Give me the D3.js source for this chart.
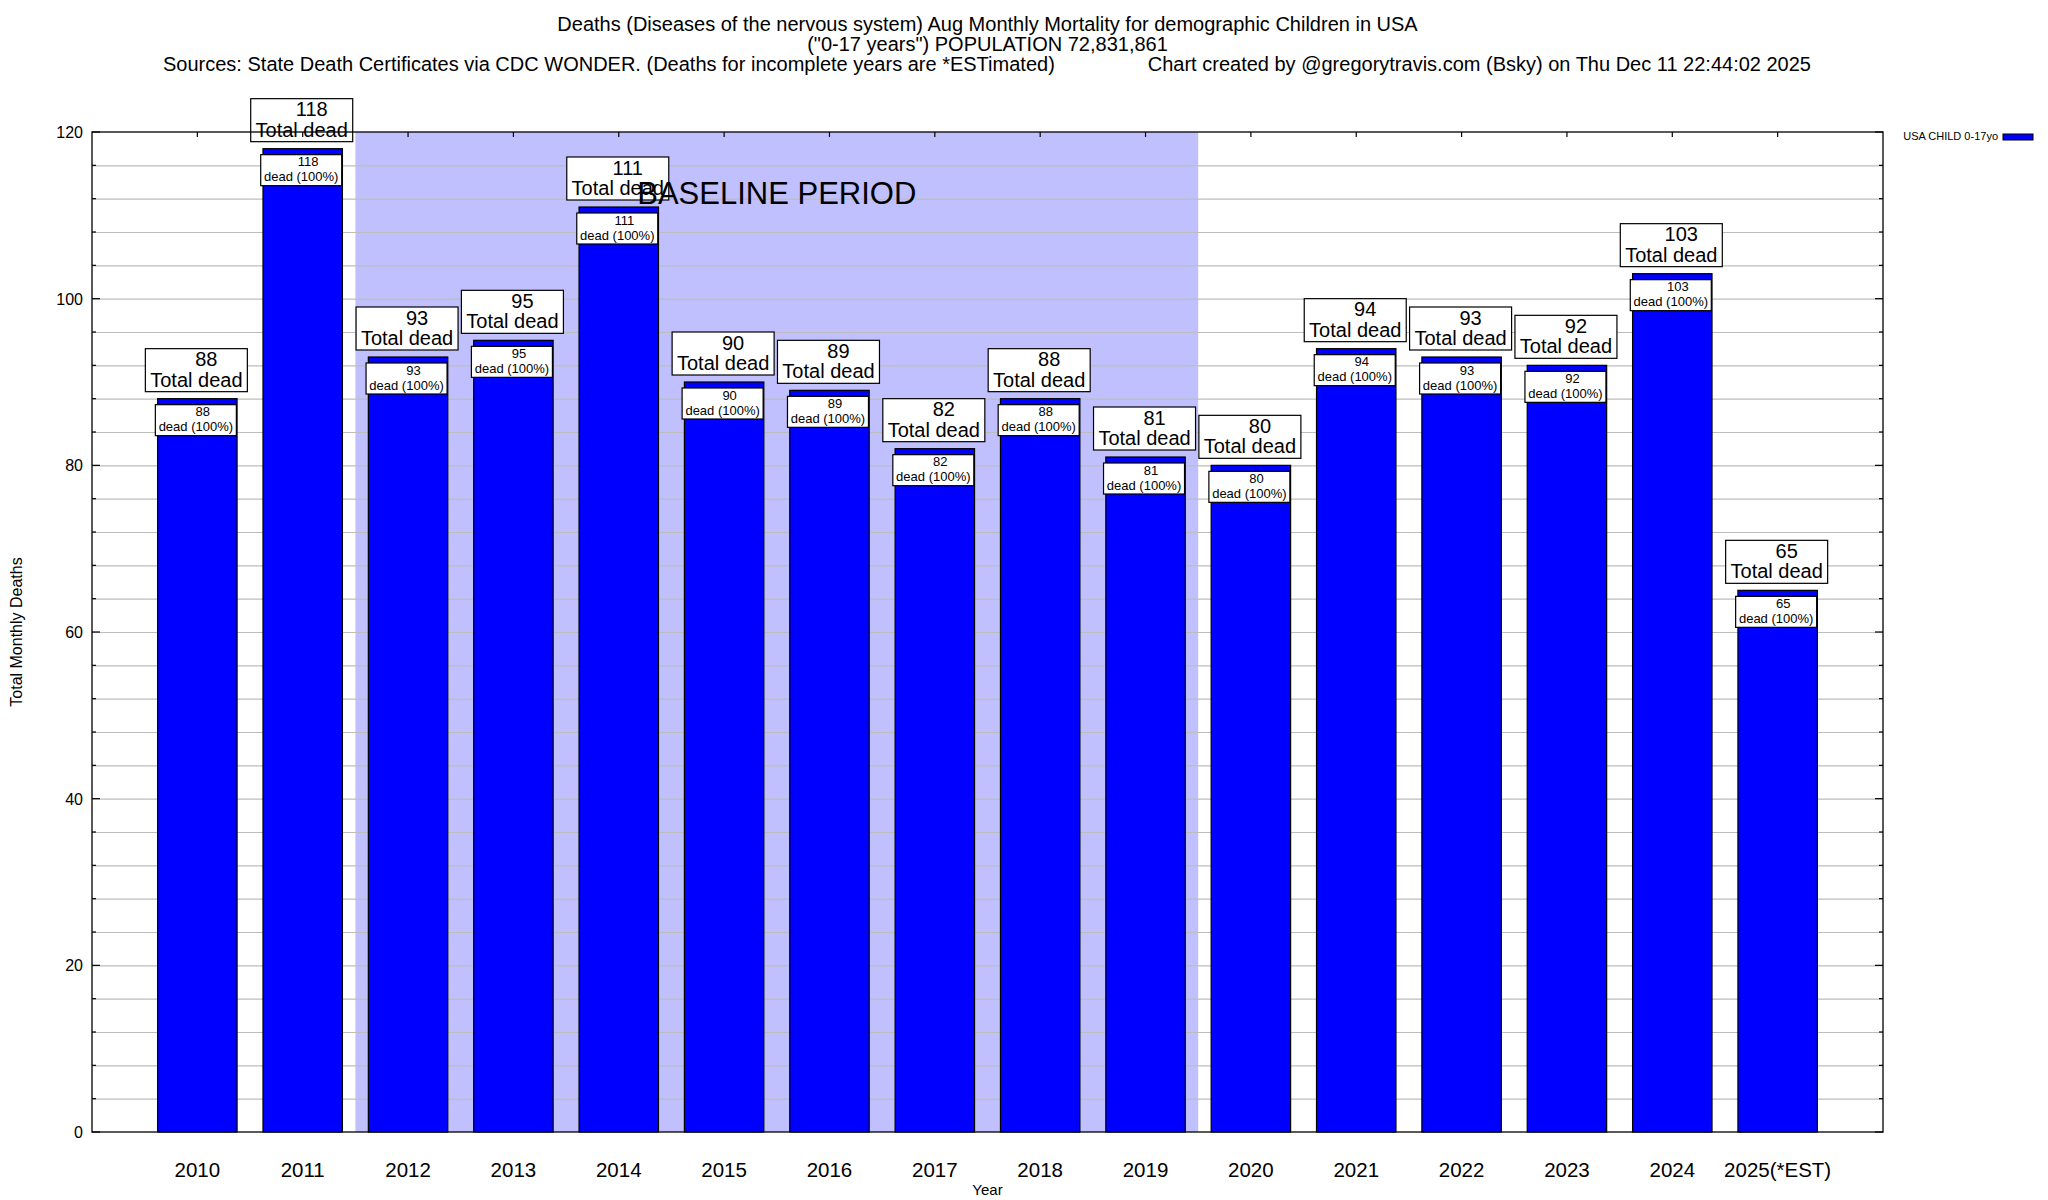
<!DOCTYPE html>
<html>
<head>
<meta charset="utf-8">
<script src="https://cdn.jsdelivr.net/npm/d3@7"></script>
<style>
  html, body { margin: 0; padding: 0; background: #fff; }
  svg { display: block; font-family: "Liberation Sans", Arial, Helvetica, sans-serif; }
</style>
</head>
<body>
<svg id="chart" width="2048" height="1200"></svg>
<script>
// ---- data ----
const years = ["2010","2011","2012","2013","2014","2015","2016","2017","2018","2019","2020","2021","2022","2023","2024","2025(*EST)"];
const deaths = [88, 118, 93, 95, 111, 90, 89, 82, 88, 81, 80, 94, 93, 92, 103, 65];
const yTicks = [0, 20, 40, 60, 80, 100, 120];
const baselineRange = [1.5, 9.5]; // in bar-index units (2012..2019)
const titleLines = [
  "Deaths (Diseases of the nervous system) Aug Monthly Mortality for demographic Children in USA",
  "(\"0-17 years\") POPULATION 72,831,861"
];
const sourceText = "Sources: State Death Certificates via CDC WONDER. (Deaths for incomplete years are *ESTimated)";
const creditText = "Chart created by @gregorytravis.com (Bsky) on Thu Dec 11 22:44:02 2025";
const legendLabel = "USA CHILD 0-17yo";

// ---- layout ----
const svg = d3.select("#chart");
const L = 92, R = 1883, T = 132, B = 1132;
const x = d3.scaleLinear().domain([-1, 16]).range([L, R]);
const y = d3.scaleLinear().domain([0, 120]).range([B, T]);
const slot = x(1) - x(0);
const barW = slot * 0.754;
const BLUE = "#0000ff";

svg.append("rect").attr("x", 0).attr("y", 0).attr("width", 2048).attr("height", 1200).attr("fill", "#fff");

// baseline shading
svg.append("rect")
  .attr("x", x(baselineRange[0])).attr("y", y(120))
  .attr("width", x(baselineRange[1]) - x(baselineRange[0]))
  .attr("height", y(0) - y(120))
  .attr("fill", "#c0c0ff");

// gridlines every 4
const gridVals = d3.range(4, 120, 4);
svg.append("g").selectAll("line").data(gridVals).join("line")
  .attr("x1", L).attr("x2", R)
  .attr("y1", d => y(d) + 0.5).attr("y2", d => y(d) + 0.5)
  .attr("stroke", "#bdbdbd").attr("stroke-width", 1.2);

// bars
svg.append("g").selectAll("rect").data(deaths).join("rect")
  .attr("x", (d, i) => x(i) - barW / 2)
  .attr("y", d => y(d))
  .attr("width", barW)
  .attr("height", d => y(0) - y(d))
  .attr("fill", BLUE)
  .attr("stroke", "#000").attr("stroke-width", 1.2);

// inner labels
const innerG = svg.append("g").selectAll("g").data(deaths).join("g")
  .attr("transform", (d, i) => `translate(${x(i)},${y(d) + 6})`);
innerG.append("rect")
  .attr("x", -42).attr("y", 0).attr("width", 81).attr("height", 31)
  .attr("fill", "#fff").attr("stroke", "#000").attr("stroke-width", 1.2);
innerG.append("text")
  .attr("x", 5.5).attr("y", 11.5).attr("text-anchor", "middle")
  .attr("font-size", 13).text(d => d);
innerG.append("text")
  .attr("x", -1.5).attr("y", 26.5).attr("text-anchor", "middle")
  .attr("font-size", 13).text("dead (100%)");

// top labels
const topG = svg.append("g").selectAll("g").data(deaths).join("g")
  .attr("transform", (d, i) => `translate(${x(i)},${y(d) - 7 - 43})`);
topG.append("rect")
  .attr("x", -52).attr("y", 0).attr("width", 102).attr("height", 43)
  .attr("fill", "#fff").attr("stroke", "#000").attr("stroke-width", 1.2);
topG.append("text")
  .attr("x", 9).attr("y", 17.5).attr("text-anchor", "middle")
  .attr("font-size", 20).text(d => d);
topG.append("text")
  .attr("x", -1).attr("y", 38).attr("text-anchor", "middle")
  .attr("font-size", 20).text("Total dead");

// baseline label
svg.append("text")
  .attr("x", (x(baselineRange[0]) + x(baselineRange[1])) / 2)
  .attr("y", 204)
  .attr("text-anchor", "middle")
  .attr("font-size", 31)
  .text("BASELINE PERIOD");

// frame
svg.append("rect")
  .attr("x", L).attr("y", T).attr("width", R - L).attr("height", B - T)
  .attr("fill", "none").attr("stroke", "#000").attr("stroke-width", 1.3);

// y ticks (minor every 4, major every 20), both sides, inward
const minorVals = d3.range(4, 120, 4).filter(v => v % 20 !== 0);
const ticksG = svg.append("g").attr("stroke", "#000").attr("stroke-width", 1.2);
yTicks.forEach(v => {
  ticksG.append("line").attr("x1", L).attr("x2", L + 8).attr("y1", y(v)).attr("y2", y(v));
  ticksG.append("line").attr("x1", R).attr("x2", R - 8).attr("y1", y(v)).attr("y2", y(v));
});
minorVals.forEach(v => {
  ticksG.append("line").attr("x1", L).attr("x2", L + 4).attr("y1", y(v)).attr("y2", y(v));
  ticksG.append("line").attr("x1", R).attr("x2", R - 4).attr("y1", y(v)).attr("y2", y(v));
});
years.forEach((yr, i) => {
  ticksG.append("line").attr("x1", x(i)).attr("x2", x(i)).attr("y1", T).attr("y2", T + 5);
});

// y tick labels
svg.append("g").selectAll("text").data(yTicks).join("text")
  .attr("x", 83).attr("y", d => y(d) + 6)
  .attr("text-anchor", "end").attr("font-size", 16)
  .text(d => d);

// x tick labels
svg.append("g").selectAll("text").data(years).join("text")
  .attr("x", (d, i) => x(i)).attr("y", 1177)
  .attr("text-anchor", "middle").attr("font-size", 20.5)
  .text(d => d);

// axis titles
svg.append("text")
  .attr("x", (L + R) / 2).attr("y", 1195)
  .attr("text-anchor", "middle").attr("font-size", 15)
  .text("Year");
svg.append("text")
  .attr("transform", `translate(22,${(T + B) / 2}) rotate(-90)`)
  .attr("text-anchor", "middle").attr("font-size", 16)
  .text("Total Monthly Deaths");

// title
const cx = (L + R) / 2;
titleLines.forEach((t, i) => {
  svg.append("text")
    .attr("x", cx).attr("y", 31 + i * 20)
    .attr("text-anchor", "middle").attr("font-size", 20)
    .text(t);
});
svg.append("text")
  .attr("x", 163).attr("y", 71)
  .attr("text-anchor", "start").attr("font-size", 20)
  .text(sourceText);
svg.append("text")
  .attr("x", 1811).attr("y", 71)
  .attr("text-anchor", "end").attr("font-size", 20)
  .text(creditText);

// legend
svg.append("text")
  .attr("x", 1998).attr("y", 140)
  .attr("text-anchor", "end").attr("font-size", 11)
  .text(legendLabel);
svg.append("rect")
  .attr("x", 2003).attr("y", 134).attr("width", 30).attr("height", 6)
  .attr("fill", BLUE).attr("stroke", "#000").attr("stroke-width", 1);
</script>
</body>
</html>
